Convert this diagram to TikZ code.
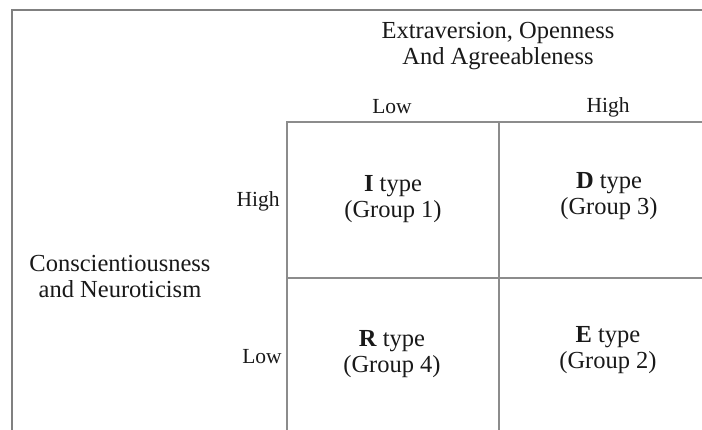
\documentclass[tikz,border=0pt]{standalone}
\usepackage{fontspec}
\setmainfont{Liberation Serif}
\begin{document}
\begin{tikzpicture}[x=1pt,y=-1pt,
  frame/.style={draw=black!50,line width=2pt},
  gridline/.style={draw=black!45,line width=1.4pt},
  lbl/.style={font=\fontsize{24.5}{26}\selectfont,align=center,text=black!90},
  lvl/.style={font=\fontsize{21.5}{24}\selectfont,text=black!90}]
  \useasboundingbox (0,0) rectangle (702,430);
  \clip (0,0) rectangle (702,430);

  % Outer frame
  \draw[frame] (12,440) -- (12,10) -- (712,10);

  % Grid corners
  \coordinate (gtl) at (287,122);
  \coordinate (gtm) at (499,122);
  \coordinate (gml) at (287,278);
  \coordinate (gtr) at (712,122);
  \coordinate (gmr) at (712,278);
  \coordinate (gbl) at (287,440);
  \coordinate (gbm) at (499,440);

  % Grid lines
  \draw[gridline] (gbl) -- (gtl) -- (gtr);
  \draw[gridline] (gtm) -- (gbm);
  \draw[gridline] (gml) -- (gmr);

  % Axis titles
  \node[lbl] (xtitle) at (498,46.5) {Extraversion, Openness\\And Agreeableness};
  \node[lbl] (ytitle) at (120,277) {Conscientiousness\\and Neuroticism};

  % Axis levels
  \node[lvl] (xlow)  at (392,107) {Low};
  \node[lvl] (xhigh) at (608,107) {High};
  \node[lvl] (yhigh) at (258,201) {High};
  \node[lvl] (ylow)  at (262,357) {Low};

  % Cells
  \node[lbl] (itype) at (393,199) {\textbf{I} type\\(Group 1)};
  \node[lbl] (dtype) at (609,196) {\textbf{D} type\\(Group 3)};
  \node[lbl] (rtype) at (392,354) {\textbf{R} type\\(Group 4)};
  \node[lbl] (etype) at (608,350) {\textbf{E} type\\(Group 2)};
\end{tikzpicture}
\end{document}
